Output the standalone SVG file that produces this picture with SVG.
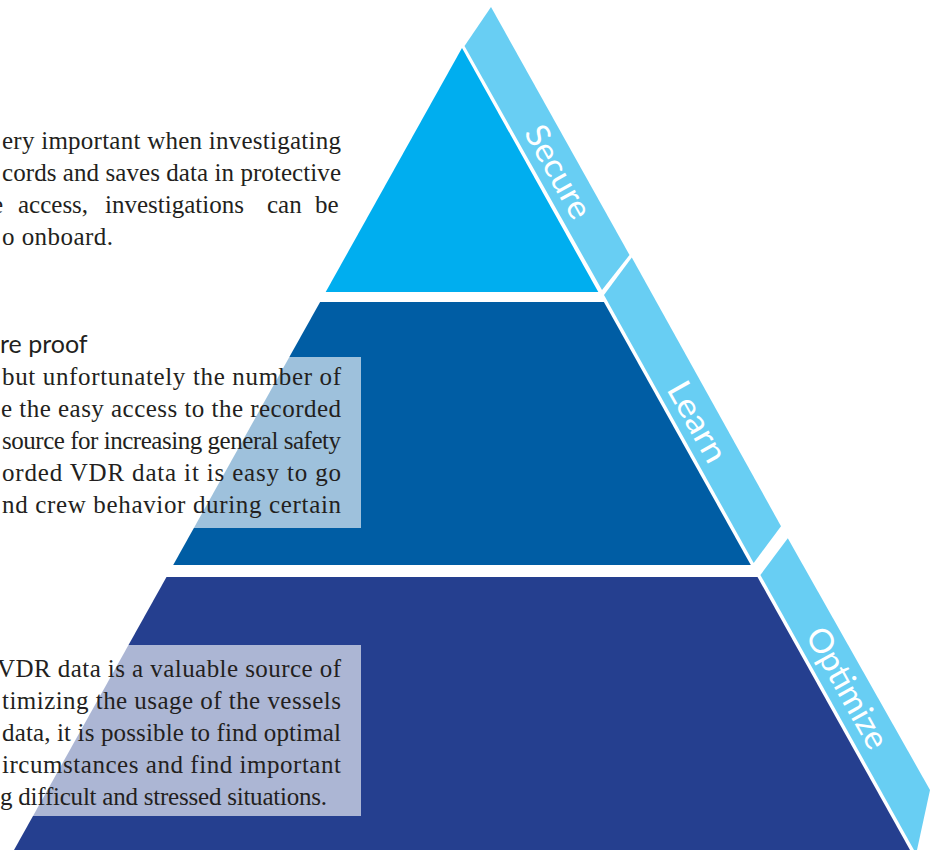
<svg xmlns="http://www.w3.org/2000/svg" width="939" height="850" viewBox="0 0 939 850">
<style>
.body{font-family:"Liberation Serif","Times New Roman",serif;font-size:25px;fill:#231F20}
.head{font-family:Lato,"Open Sans",sans-serif;font-size:25px;fill:#231F20}
.band{fill:#68CEF3}
.lbl{font-family:Lato,"Open Sans",sans-serif;font-weight:400;font-size:33px;fill:#FFFFFF}
.veil{fill:#FFFFFF;fill-opacity:0.62}
</style>
<rect x="0" y="0" width="939" height="850" fill="#FFFFFF"/>
<g id="tier-secure">
<polygon points="462,48 598.3,292 325.7,292" fill="#00AEEF"/>
</g>
<g id="tier-learn">
<polygon points="320.1,302 603.9,302 750.8,565 173.2,565" fill="#005DA4"/>
</g>
<g id="tier-optimize">
<polygon points="166.5,577 757.5,577 910,850 14,850" fill="#253F8F"/>
</g>
<g id="band-secure">
<polygon class="band" points="464.5,46 491,7 629.5,255 602,290"/>
<text class="lbl" transform="translate(558,172) rotate(60.8)" x="0" y="11" text-anchor="middle" textLength="102" lengthAdjust="spacingAndGlyphs">Secure</text>
</g>
<g id="band-learn">
<polygon class="band" points="604,295 631.8,257.5 781,526.2 753.7,563"/>
<text class="lbl" transform="translate(697,422) rotate(60.8)" x="0" y="11" text-anchor="middle" textLength="88" lengthAdjust="spacingAndGlyphs">Learn</text>
</g>
<g id="band-optimize">
<polygon class="band" points="760.4,575 787.8,538.2 930,790 917,850 914,850"/>
<text class="lbl" transform="translate(847,688) rotate(60.8)" x="0" y="11" text-anchor="middle" textLength="134" lengthAdjust="spacingAndGlyphs">Optimize</text>
</g>
<g id="veils">
<rect class="veil" x="0" y="357" width="361" height="171"/>
<rect class="veil" x="0" y="645" width="361" height="171"/>
</g>
<g id="text-secure">
<text class="body" x="2" y="149" textLength="339" lengthAdjust="spacing">ery important when investigating</text>
<text class="body" x="2" y="181" textLength="339" lengthAdjust="spacing">cords and saves data in protective</text>
<text class="body" y="213"><tspan x="-8">e</tspan><tspan x="18">access,</tspan><tspan x="105">investigations</tspan><tspan x="267">can</tspan><tspan x="315">be</tspan></text>
<text class="body" x="2" y="245" textLength="111" lengthAdjust="spacing">o onboard.</text>
</g>
<g id="text-learn">
<text class="head" x="0" y="353">re proof</text>
<text class="body" x="2" y="385" textLength="339" lengthAdjust="spacing">but unfortunately the number of</text>
<text class="body" x="1" y="417" textLength="340" lengthAdjust="spacing">e the easy access to the recorded</text>
<text class="body" x="2" y="449" textLength="339" lengthAdjust="spacing">source for increasing general safety</text>
<text class="body" x="2" y="481" textLength="339" lengthAdjust="spacing">orded VDR data it is easy to go</text>
<text class="body" x="2" y="513" textLength="339" lengthAdjust="spacing">nd crew behavior during certain</text>
</g>
<g id="text-optimize">
<text class="body" x="-3" y="677" textLength="344" lengthAdjust="spacing">VDR data is a valuable source of</text>
<text class="body" x="2" y="709" textLength="339" lengthAdjust="spacing">timizing the usage of the vessels</text>
<text class="body" x="2" y="741" textLength="339" lengthAdjust="spacing">data, it is possible to find optimal</text>
<text class="body" x="2" y="773" textLength="339" lengthAdjust="spacing">ircumstances and find important</text>
<text class="body" x="0" y="805" textLength="327" lengthAdjust="spacing">g difficult and stressed situations.</text>
</g>
</svg>
